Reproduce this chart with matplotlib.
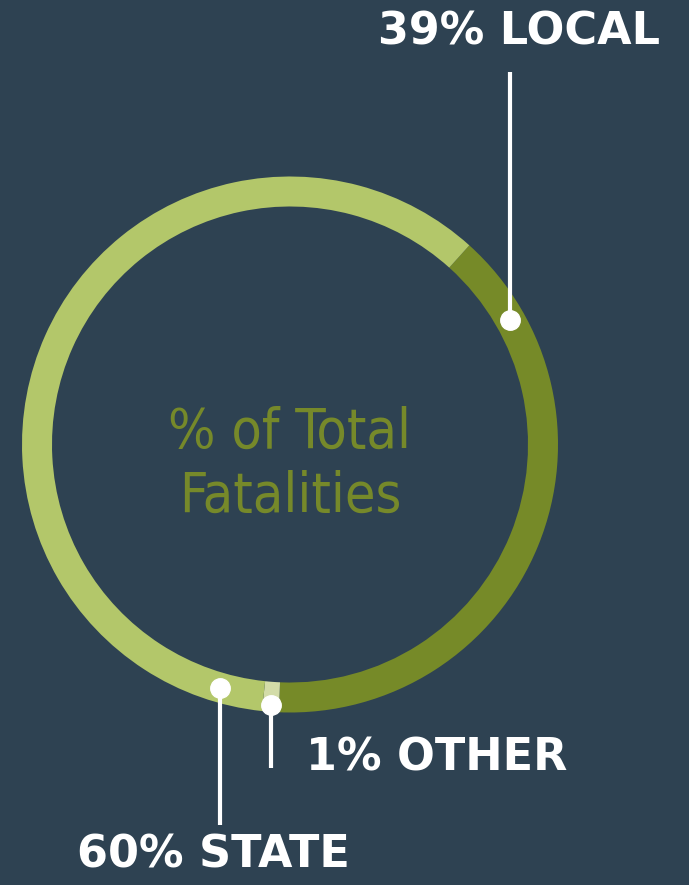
import matplotlib.pyplot as plt
import numpy as np

# shares of total fatalities
labels = ["LOCAL", "OTHER", "STATE"]
shares = [39, 1, 60]
colors = ["#768a28", "#d3dca8", "#b3c76a"]

bg = "#2e4252"
W, H = 689, 885
cx, cy = 290, H - 444.5
R, ring = 268, 30
start = 48

fig = plt.figure(figsize=(W / 100, H / 100), dpi=100)
fig.patch.set_facecolor(bg)
ax = fig.add_axes([0, 0, 1, 1])
ax.set_facecolor(bg)

wedges, _ = ax.pie(shares, colors=colors, startangle=start, counterclock=False,
                   center=(cx, cy), radius=R, frame=True,
                   wedgeprops=dict(width=ring, linewidth=0))

ax.set_xlim(0, W)
ax.set_ylim(0, H)
ax.set_aspect("equal")
ax.axis("off")

# angle of each wedge middle
mids = {lab: np.deg2rad((w.theta1 + w.theta2) / 2) for lab, w in zip(labels, wedges)}

def on_ring(theta, r):
    return cx + r * np.cos(theta), cy + r * np.sin(theta)

lx, ly = on_ring(np.deg2rad(29.5), R - ring / 2)
ox, oy = on_ring(mids["OTHER"], R - 7)
sx, sy = on_ring(np.deg2rad(-106), R - ring / 2)

callouts = [
    (lx, ly, H - 72, f"{shares[0]}% LOCAL", (660, H - 32)),
    (ox, oy, H - 768, f"{shares[1]}% OTHER", (567, H - 758)),
    (sx, sy, H - 825, f"{shares[2]}% STATE", (350, H - 855)),
]
for x, y, yend, txt, (tx, ty) in callouts:
    ax.plot([x, x], [y, yend], color="white", lw=3, solid_capstyle="butt", zorder=3)
    ax.plot(x, y, "o", color="white", ms=14, zorder=4)
    ax.text(tx, ty, txt, color="white", fontsize=32, fontweight="bold",
            family="DejaVu Sans", ha="right", va="center")

for txt, y in [("% of Total", H - 433), ("Fatalities", H - 497)]:
    ax.text(cx, y, txt, color="#76892a", fontsize=40, fontstretch="condensed",
            fontweight="medium", family="DejaVu Sans", ha="center", va="center")

plt.savefig("out.png", dpi=100, facecolor=bg)
